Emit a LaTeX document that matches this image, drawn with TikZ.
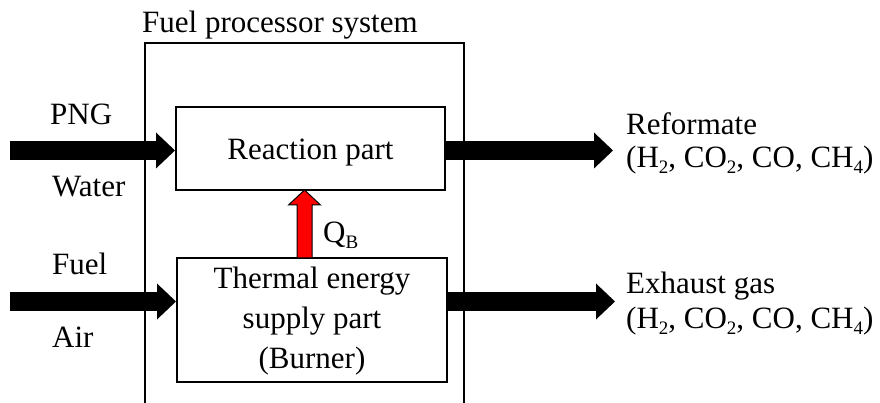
\documentclass[tikz,border=0pt]{standalone}
\usepackage{fontspec}
\setmainfont{Liberation Serif}
\usetikzlibrary{arrows.meta,calc}
\newcommand\mysub[1]{\raisebox{-6pt}{\fontsize{19}{19}\selectfont #1}}
\begin{document}
\begin{tikzpicture}[x=1pt,y=-1pt,
  every node/.style={font=\fontsize{31}{37.5}\selectfont},
  txt/.style={inner sep=0pt,anchor=base west},
  partbox/.style={draw,line width=2pt,inner sep=0pt,align=center},
  outerline/.style={draw,line width=1.4pt},
  bigarrow/.style={line width=19pt,-{Triangle[length=19pt,width=36pt,line width=0pt]}},
  heatarrow/.style={draw=black,line width=1pt,fill=red}]
\useasboundingbox (0,0) rectangle (880,403);
\clip (0,0) rectangle (880,403);
\fill[white] (0,0) rectangle (880,403);

% outer system box (bottom edge outside picture)
\draw[outerline] (145,410) |- (464,43) -- (464,410);
\node[txt] (title) at (142,33) {Fuel processor system};

% parts
\node[partbox,minimum width=269pt,minimum height=83pt,text height=23pt,text depth=0pt]
  (reaction) at (310.5,148.5) {Reaction part};
\node[partbox,minimum width=270pt,minimum height=124pt] (thermal) at (312,320) {};
\node[inner sep=0pt,align=center,anchor=base] (thermaltext) at (312,368)
  {Thermal energy\\[2.5pt]supply part\\[2.5pt](Burner)};

% input / output labels
\node[txt] (png) at (50,125) {PNG};
\node[txt] (water) at (52,197) {Water};
\node[txt] (fuel) at (52,274) {Fuel};
\node[txt] (air) at (52,347) {Air};
\node[txt] (ref1) at (626,135) {Reformate};
\node[txt] (ref2) at (626,168) {(H\mysub{2}, CO\mysub{2}, CO, CH\mysub{4})};
\node[txt] (exh1) at (626,293) {Exhaust gas};
\node[txt] (exh2) at (626,328) {(H\mysub{2}, CO\mysub{2}, CO, CH\mysub{4})};
\node[txt] (qb) at (323,243) {Q\mysub{B}};

% connector end points
\coordinate (pngin) at (10,150.5);
\coordinate (refout) at (613,150.5);
\coordinate (fuelin) at (10,301.5);
\coordinate (exhout) at (615,301.5);

\draw[bigarrow] (pngin) -- (reaction.west |- pngin);
\draw[bigarrow] (reaction.east |- refout) -- (refout);
\draw[bigarrow] (fuelin) -- (thermal.west |- fuelin);
\draw[bigarrow] (thermal.east |- exhout) -- (exhout);

% heat arrow Q_B
\coordinate (hbot) at (304.5,258);
\coordinate (htop) at (304.5,190);
\draw[heatarrow] ($(hbot)+(-7.5,0)$) -- ($(htop)+(-7.5,15)$) -- ($(htop)+(-16,15)$)
  -- (htop) -- ($(htop)+(16,15)$) -- ($(htop)+(7.5,15)$) -- ($(hbot)+(7.5,0)$) -- cycle;
\end{tikzpicture}
\end{document}
